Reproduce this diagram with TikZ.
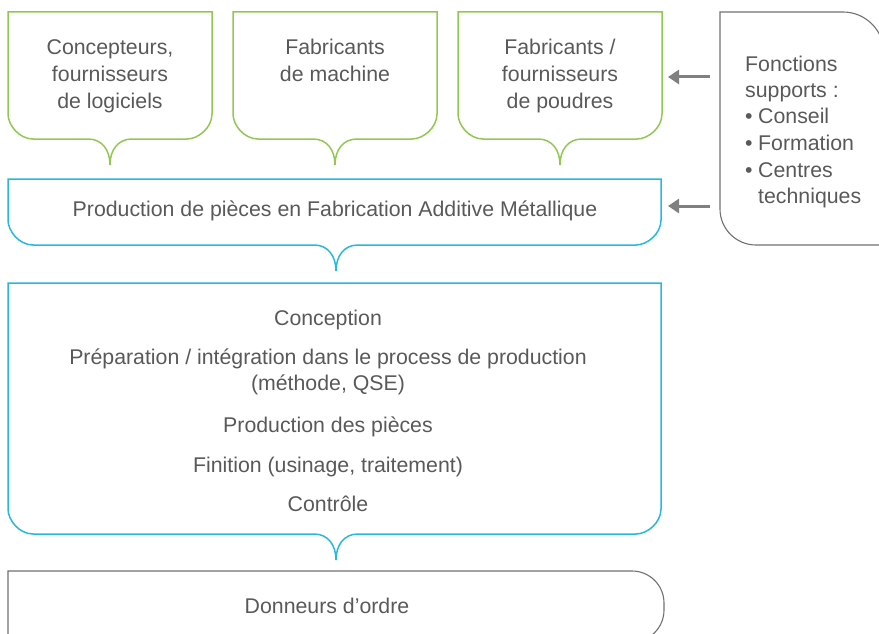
\documentclass[tikz,border=0pt]{standalone}
\usepackage{fontspec}
\setmainfont{Liberation Sans}
\usetikzlibrary{arrows.meta}

\definecolor{txtgray}{RGB}{89,89,89}
\definecolor{leafgreen}{RGB}{146,200,82}
\definecolor{skyblue}{RGB}{40,184,222}
\definecolor{framegray}{RGB}{112,112,112}
\definecolor{arrowgray}{RGB}{128,128,128}

% box with square top, rounded bottom corners and a downward notch
% #1 style, #2 x1, #3 y1, #4 x2, #5 y2, #6 notch centre
\newcommand\notchbox[6]{%
  \draw[#1] (#2,#3) -- (#4,#3) -- (#4,#5-25)
    .. controls (#4,#5-11.2) and (#4-13.8,#5) .. (#4-25,#5)
    -- (#6+22,#5) .. controls (#6+8,#5) and (#6,#5+11) .. (#6,#5+26)
    .. controls (#6,#5+11) and (#6-8,#5) .. (#6-22,#5)
    -- (#2+25,#5) .. controls (#2+11.2,#5) and (#2,#5-13.8) .. (#2,#5-25)
    -- cycle;}

\begin{document}
\begin{tikzpicture}[x=1pt,y=-1pt,
  every node/.style={text=txtgray,font=\fontsize{21.3}{26.7}\selectfont,inner sep=0pt},
  ln/.style={anchor=base},
  lnw/.style={anchor=base west},
  greenframe/.style={draw=leafgreen,line width=1.5pt},
  blueframe/.style={draw=skyblue,line width=1.5pt},
  grayframe/.style={draw=framegray,line width=1.1pt},
  supportarrow/.style={draw=arrowgray,line width=3pt,
    -{Triangle[length=11pt,width=14pt]}}]

\useasboundingbox (0,0) rectangle (879,634);

% actors at the top
\notchbox{greenframe}{8}{12}{212}{139}{110}
\notchbox{greenframe}{233}{12}{437}{139}{335}
\notchbox{greenframe}{458}{12}{662}{139}{560}

\node[ln] (g1a) at (110,55) {Concepteurs,};
\node[ln] (g1b) at (110,82) {fournisseurs};
\node[ln] (g1c) at (110,108) {de logiciels};

\node[ln] (g2a) at (335,55) {Fabricants};
\node[ln] (g2b) at (335,82) {de machine};

\node[ln] (g3a) at (560,55) {Fabricants /};
\node[ln] (g3b) at (560,82) {fournisseurs};
\node[ln] (g3c) at (560,108) {de poudres};

% production band
\notchbox{blueframe}{8}{179}{661}{245}{336}
\node[ln] (prod) at (335,216.5) {Production de pièces en Fabrication Additive Métallique};

% process steps
\notchbox{blueframe}{8}{283}{661}{534}{336}
\node[ln] (s1)  at (328,325.5) {Conception};
\node[ln] (s2a) at (328,364.5) {Préparation / intégration dans le process de production};
\node[ln] (s2b) at (328,390.5) {(méthode, QSE)};
\node[ln] (s3)  at (328,432.5) {Production des pièces};
\node[ln] (s4)  at (328,472.5) {Finition (usinage, traitement)};
\node[ln] (s5)  at (328,511.5) {Contrôle};

% customers
\draw[grayframe] (8,645) -- (8,571) -- (632,571)
  .. controls (649.7,571) and (664,585.3) .. (664,603) -- (664,610)
  .. controls (664,627.7) and (649.7,642) .. (632,642) -- (8,642);
\node[ln] (cust) at (327,613.5) {Donneurs d’ordre};

% support functions
\draw[grayframe] (720,12) -- (843,12)
  .. controls (865.6,12) and (884,30.4) .. (884,53) -- (884,245)
  -- (756,245) .. controls (736.1,245) and (720,228.9) .. (720,209) -- cycle;
\node[lnw] (sp1) at (745,72) {Fonctions};
\node[lnw] (sp2) at (745,98) {supports :};
\node[lnw] (sp3) at (745,124) {•};
\node[lnw] (sp3t) at (758,124) {Conseil};
\node[lnw] (sp4) at (745,150) {•};
\node[lnw] (sp4t) at (758,150) {Formation};
\node[lnw] (sp5) at (745,177) {•};
\node[lnw] (sp5t) at (758,177) {Centres};
\node[lnw] (sp6t) at (758,203) {techniques};

% arrows from the support box
\coordinate (supA) at (710,77);
\coordinate (tgtA) at (668,77);
\coordinate (supB) at (710,206);
\coordinate (tgtB) at (668,206);
\draw[supportarrow] (supA) -- (tgtA);
\draw[supportarrow] (supB) -- (tgtB);
\end{tikzpicture}
\end{document}
